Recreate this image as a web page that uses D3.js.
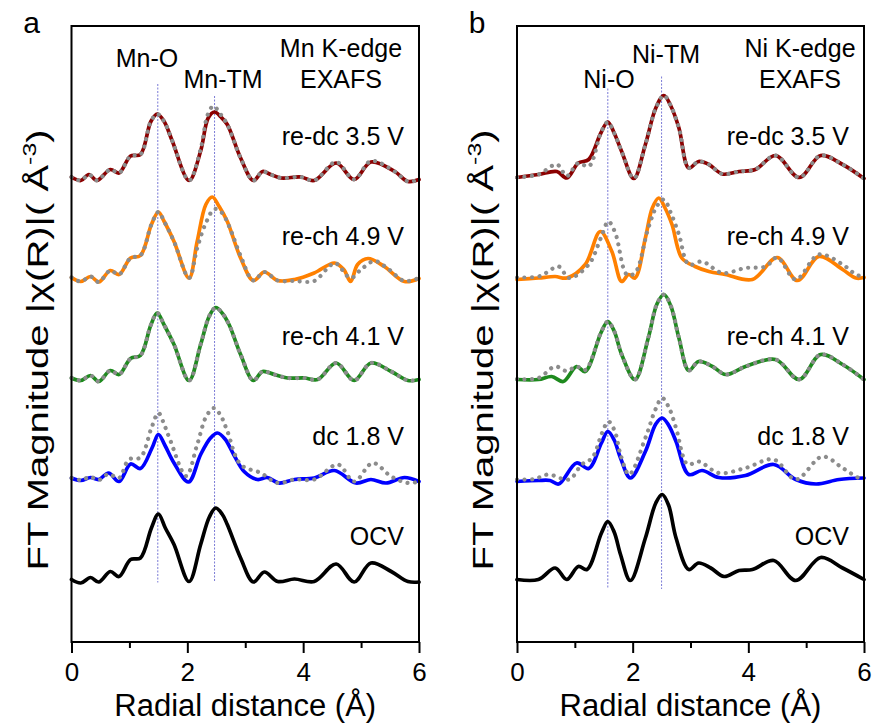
<!DOCTYPE html>
<html><head><meta charset="utf-8">
<script src="https://cdn.jsdelivr.net/npm/d3@7"></script>
<style>
body{margin:0;background:#fff}
svg text{font-family:"Liberation Sans",Arial,Helvetica,sans-serif;fill:#000}
</style>
</head><body>
<svg id="chart" width="875" height="727"></svg>
<script>
// ---------- data ----------
const seriesNames   = ["OCV", "dc 1.8 V", "re-ch 4.1 V", "re-ch 4.9 V", "re-dc 3.5 V"];
const seriesOffsets = [0, 2, 4, 6, 8];
const seriesColors  = ["#000000", "#0000ff", "#1e8a1e", "#ff8000", "#8b0000"];
const xTicks = [0, 2, 4, 6];
const xMinorTicks = [1, 3, 5];

// Panel a: Mn K-edge, [R (Å), |χ(R)| (arb.)]
const mnOCV = [[0,0.05],[0.16,-0.02],[0.33,0.09],[0.47,0.00],[0.67,0.21],[0.82,0.11],[1.02,0.45],[1.19,0.48],[1.38,1.08],[1.50,1.36],[1.62,1.08],[1.77,0.75],[2.03,0.01],[2.23,0.75],[2.38,1.30],[2.49,1.48],[2.60,1.36],[2.69,1.15],[2.92,0.48],[3.14,0.00],[3.33,0.20],[3.56,0.01],[3.85,0.06],[4.19,0.01],[4.57,0.36],[4.88,0.00],[5.17,0.38],[5.52,0.21],[5.81,0.01],[6.00,0.00]];
const mnDc18 = [[0,0.08],[0.16,0.03],[0.33,0.09],[0.47,0.05],[0.64,0.18],[0.82,0.01],[1.02,0.36],[1.19,0.27],[1.39,0.68],[1.50,0.95],[1.61,0.74],[1.77,0.38],[2.02,0.00],[2.23,0.55],[2.40,0.88],[2.52,0.98],[2.65,0.86],[2.80,0.55],[2.98,0.21],[3.21,0.05],[3.38,0.09],[3.58,-0.02],[3.85,0.05],[4.19,0.08],[4.54,0.23],[4.91,-0.02],[5.17,0.05],[5.43,-0.02],[5.75,0.09],[6.00,0.01]];
const mnDc18Fit = [[0,0.08],[0.16,0.04],[0.33,0.10],[0.47,0.04],[0.64,0.16],[0.82,0.08],[0.99,0.45],[1.19,0.49],[1.38,1.08],[1.50,1.38],[1.61,1.12],[1.71,0.82],[1.98,0.12],[2.17,0.75],[2.33,1.32],[2.46,1.48],[2.58,1.32],[2.69,1.02],[2.92,0.35],[3.27,0.18],[3.56,-0.02],[3.85,0.05],[4.19,0.05],[4.60,0.35],[4.88,0.01],[5.20,0.38],[5.52,0.11],[5.81,-0.02],[6.00,0.01]];
const mnCh41 = [[0,0.08],[0.16,0.03],[0.33,0.13],[0.47,0.01],[0.67,0.23],[0.82,0.15],[1.02,0.47],[1.19,0.53],[1.37,1.14],[1.48,1.38],[1.60,1.14],[1.77,0.75],[2.03,0.03],[2.23,0.75],[2.38,1.32],[2.49,1.49],[2.60,1.38],[2.72,1.15],[2.92,0.55],[3.14,0.03],[3.30,0.21],[3.50,0.15],[3.73,0.08],[4.02,0.08],[4.25,0.05],[4.57,0.38],[4.88,0.03],[5.17,0.38],[5.52,0.21],[5.81,0.03],[6.00,0.05]];
const mnCh41Fit = [[0,0.08],[0.16,0.03],[0.33,0.13],[0.47,0.01],[0.67,0.23],[0.82,0.15],[1.02,0.47],[1.19,0.53],[1.37,1.14],[1.48,1.38],[1.60,1.14],[1.77,0.75],[2.03,0.03],[2.23,0.75],[2.38,1.32],[2.49,1.49],[2.60,1.38],[2.72,1.15],[2.92,0.55],[3.14,0.03],[3.30,0.21],[3.50,0.15],[3.73,0.08],[4.02,0.08],[4.25,0.05],[4.57,0.38],[4.88,0.03],[5.17,0.38],[5.52,0.21],[5.81,0.03],[6.00,0.05]];
const mnCh49 = [[0,0.09],[0.16,0.01],[0.33,0.11],[0.47,0.00],[0.67,0.23],[0.82,0.15],[1.02,0.48],[1.19,0.53],[1.38,1.15],[1.50,1.40],[1.60,1.21],[1.77,0.81],[2.03,0.08],[2.17,0.81],[2.32,1.55],[2.43,1.70],[2.55,1.51],[2.69,1.21],[2.92,0.48],[3.14,0.03],[3.33,0.20],[3.56,0.03],[3.85,0.05],[4.19,0.18],[4.54,0.38],[4.70,0.25],[4.82,0.01],[4.94,0.35],[5.12,0.47],[5.40,0.31],[5.75,0.01],[6.00,0.07]];
const mnCh49Fit = [[0,0.09],[0.16,0.01],[0.33,0.11],[0.47,0.00],[0.67,0.23],[0.82,0.15],[1.02,0.48],[1.19,0.53],[1.38,1.15],[1.50,1.40],[1.60,1.21],[1.77,0.81],[2.03,0.08],[2.17,0.68],[2.32,1.18],[2.47,1.46],[2.60,1.38],[2.72,1.12],[2.92,0.52],[3.14,0.03],[3.33,0.20],[3.56,0.03],[3.85,0.02],[4.19,0.02],[4.40,0.25],[4.55,0.38],[4.82,0.08],[5.00,0.25],[5.23,0.42],[5.45,0.28],[5.75,0.02],[6.00,0.08]];
const mnDc35 = [[0,0.10],[0.16,0.03],[0.30,0.15],[0.44,0.03],[0.67,0.25],[0.82,0.18],[1.02,0.52],[1.19,0.55],[1.37,1.21],[1.48,1.36],[1.60,1.21],[1.74,0.82],[2.03,0.03],[2.23,0.62],[2.36,1.28],[2.47,1.40],[2.58,1.30],[2.69,1.15],[2.92,0.48],[3.14,0.03],[3.30,0.21],[3.44,0.15],[3.62,0.08],[3.96,0.10],[4.19,0.03],[4.57,0.38],[4.88,0.05],[5.17,0.40],[5.58,0.21],[5.81,0.01],[6.00,0.05]];
const mnDc35Fit = [[0,0.10],[0.16,0.03],[0.30,0.15],[0.44,0.03],[0.67,0.25],[0.82,0.18],[1.02,0.52],[1.19,0.55],[1.37,1.21],[1.48,1.36],[1.60,1.21],[1.74,0.82],[2.03,0.03],[2.23,0.66],[2.35,1.34],[2.45,1.52],[2.57,1.36],[2.69,1.15],[2.92,0.48],[3.14,0.03],[3.30,0.21],[3.44,0.15],[3.62,0.08],[3.96,0.10],[4.19,0.03],[4.57,0.40],[4.88,0.05],[5.17,0.42],[5.58,0.21],[5.81,0.01],[6.00,0.05]];

// Panel b: Ni K-edge, [R (Å), |χ(R)| (arb.)]
const niOCV = [[0,0.05],[0.37,0.05],[0.66,0.28],[0.86,0.05],[1.06,0.31],[1.21,0.25],[1.46,0.98],[1.57,1.21],[1.68,1.00],[1.79,0.55],[1.96,0.03],[2.22,0.88],[2.40,1.58],[2.51,1.75],[2.62,1.54],[2.75,0.88],[2.97,0.25],[3.14,0.38],[3.35,0.28],[3.58,0.11],[3.84,0.23],[4.07,0.25],[4.44,0.43],[4.82,0.03],[5.25,0.49],[5.63,0.28],[6.00,0.05]];
const niDc18 = [[0,0.01],[0.37,0.03],[0.57,0.03],[0.72,-0.04],[1.03,0.38],[1.24,0.27],[1.46,0.78],[1.57,1.01],[1.68,0.84],[1.79,0.48],[1.96,0.08],[2.22,0.61],[2.40,1.16],[2.51,1.28],[2.62,1.14],[2.75,0.81],[2.97,0.15],[3.20,0.23],[3.49,0.09],[3.95,0.13],[4.44,0.35],[4.82,0.05],[5.17,-0.04],[5.57,0.05],[6.00,0.08]];
const niDc18Fit = [[0,0.05],[0.30,0.06],[0.54,0.15],[0.90,0.05],[1.12,0.35],[1.30,0.48],[1.47,0.98],[1.58,1.21],[1.69,1.02],[1.79,0.55],[1.94,0.15],[2.22,0.88],[2.39,1.44],[2.51,1.68],[2.63,1.48],[2.75,1.08],[2.95,0.35],[3.14,0.41],[3.49,0.18],[3.95,0.28],[4.44,0.45],[4.82,0.05],[5.28,0.51],[5.63,0.28],[5.91,0.08],[6.00,0.06]];
const niCh41 = [[0,0.05],[0.37,0.05],[0.60,0.11],[0.80,0.01],[1.03,0.31],[1.18,0.21],[1.45,0.98],[1.57,1.21],[1.68,1.02],[1.81,0.55],[2.04,0.05],[2.27,0.88],[2.42,1.56],[2.54,1.75],[2.66,1.52],[2.80,0.88],[2.97,0.23],[3.14,0.41],[3.38,0.31],[3.61,0.15],[3.95,0.31],[4.47,0.45],[4.88,0.05],[5.25,0.55],[5.63,0.35],[6.00,0.05]];
const niCh41Fit = [[0,0.06],[0.37,0.08],[0.66,0.31],[0.86,0.22],[1.03,0.31],[1.18,0.24],[1.45,0.98],[1.57,1.21],[1.68,1.02],[1.81,0.55],[2.04,0.05],[2.27,0.88],[2.42,1.56],[2.54,1.75],[2.66,1.52],[2.80,0.88],[2.97,0.23],[3.14,0.41],[3.38,0.31],[3.61,0.15],[3.95,0.31],[4.47,0.45],[4.88,0.05],[5.25,0.55],[5.63,0.35],[6.00,0.05]];
const niCh49 = [[0,0.05],[0.37,0.08],[0.66,0.11],[0.86,0.08],[1.18,0.35],[1.44,1.01],[1.64,0.61],[1.81,0.01],[1.93,0.15],[2.04,0.08],[2.22,0.88],[2.34,1.48],[2.45,1.68],[2.56,1.48],[2.68,1.15],[2.85,0.48],[3.08,0.31],[3.32,0.21],[3.60,0.15],[4.07,0.05],[4.50,0.49],[4.85,0.03],[5.22,0.51],[5.63,0.25],[5.86,0.08],[6.00,0.09]];
const niCh49Fit = [[0,0.09],[0.37,0.11],[0.50,0.18],[0.72,0.31],[0.90,0.08],[1.24,0.35],[1.45,0.88],[1.58,1.21],[1.70,0.98],[1.90,0.15],[2.04,0.18],[2.27,1.08],[2.42,1.52],[2.54,1.65],[2.66,1.38],[2.80,0.95],[2.97,0.35],[3.20,0.41],[3.55,0.18],[3.95,0.28],[4.30,0.31],[4.50,0.49],[4.82,0.05],[5.22,0.55],[5.63,0.35],[5.86,0.15],[6.00,0.10]];
const niDc35 = [[0,0.09],[0.37,0.15],[0.69,0.21],[0.86,0.08],[1.06,0.38],[1.24,0.45],[1.45,0.98],[1.57,1.20],[1.68,0.98],[1.81,0.61],[2.02,0.07],[2.22,0.75],[2.40,1.48],[2.54,1.73],[2.66,1.52],[2.80,1.08],[2.97,0.28],[3.14,0.41],[3.32,0.35],[3.55,0.16],[3.84,0.21],[4.12,0.25],[4.47,0.53],[4.88,0.09],[5.25,0.53],[5.63,0.35],[6.00,0.07]];
const niDc35Fit = [[0,0.09],[0.37,0.15],[0.69,0.35],[0.86,0.12],[1.06,0.38],[1.24,0.31],[1.45,0.98],[1.57,1.20],[1.68,0.98],[1.81,0.61],[2.02,0.07],[2.22,0.75],[2.40,1.48],[2.54,1.73],[2.66,1.52],[2.80,1.08],[2.97,0.28],[3.14,0.41],[3.32,0.35],[3.55,0.16],[3.84,0.21],[4.12,0.25],[4.47,0.53],[4.88,0.09],[5.25,0.53],[5.63,0.35],[6.00,0.07]];

// reference bond positions (Å) and their line extents (arb. units)
const mnBonds = [{label:"Mn-O", r:1.49, top:9.96, bottom:-0.01}, {label:"Mn-TM", r:2.47, top:9.72, bottom:-0.01}];
const niBonds = [{label:"Ni-O", r:1.57, top:9.87, bottom:-0.14}, {label:"Ni-TM", r:2.50, top:10.11, bottom:-0.14}];

// ---------- layout ----------
const svg = d3.select("#chart");
const FONT = '"Liberation Sans",Arial,Helvetica,sans-serif';
const panels = [
  { letter:"a", left:71.5, right:419, data:[mnOCV,mnDc18,mnCh41,mnCh49,mnDc35], fits:[null,mnDc18Fit,mnCh41Fit,mnCh49Fit,mnDc35Fit],
    bonds:mnBonds, edge:"Mn K-edge",
    bondLabels:[{t:"Mn-O", x:147, y:67},{t:"Mn-TM", x:223, y:88}], edgeX:341 },
  { letter:"b", left:517, right:864, data:[niOCV,niDc18,niCh41,niCh49,niDc35], fits:[null,niDc18Fit,niCh41Fit,niCh49Fit,niDc35Fit],
    bonds:niBonds, edge:"Ni K-edge",
    bondLabels:[{t:"Ni-O", x:609, y:88},{t:"Ni-TM", x:666, y:63}], edgeX:800 }
];
const plotTop = 26, plotBottom = 642;

panels.forEach(p => {
  const g = svg.append("g");
  const x = d3.scaleLinear().domain([0, 6]).range([p.left, p.right]);
  const y = d3.scaleLinear().domain([-1.2, 11.12]).range([plotBottom, plotTop]);

  // reference lines
  p.bonds.forEach(b => {
    g.append("line")
      .attr("x1", x(b.r)).attr("x2", x(b.r))
      .attr("y1", y(b.top)).attr("y2", y(b.bottom))
      .attr("stroke", "#7a7ad6").attr("stroke-width", 1)
      .attr("stroke-dasharray", "2,1.5");
  });

  // curves
  p.data.forEach((d, i) => {
    const off = seriesOffsets[i];
    const line = d3.line().x(v => x(v[0])).y(v => y(v[1] + off)).curve(d3.curveCatmullRom.alpha(0.5));
    g.append("path").attr("d", line(d)).attr("fill", "none")
      .attr("stroke", seriesColors[i]).attr("stroke-width", 3.7)
      .attr("stroke-linejoin", "round").attr("stroke-linecap", "round");
    if (p.fits[i]) {
      g.append("path").attr("d", line(p.fits[i])).attr("fill", "none")
        .attr("stroke", "#8c8c8c").attr("stroke-width", 4.2)
        .attr("stroke-dasharray", "0.01,7.5").attr("stroke-linecap", "round");
    }
    g.append("text").attr("x", p.right - 15).attr("y", y(off + 0.74))
      .attr("text-anchor", "end").attr("font-size", 25).text(seriesNames[i]);
  });

  // frame
  g.append("rect").attr("x", p.left).attr("y", plotTop)
    .attr("width", p.right - p.left).attr("height", plotBottom - plotTop)
    .attr("fill", "none").attr("stroke", "#000").attr("stroke-width", 2);

  // axes
  const ax = g.append("g").attr("transform", `translate(0,${plotBottom})`)
    .call(d3.axisBottom(x).tickValues(xTicks).tickSize(11).tickPadding(10).tickFormat(d3.format("d")));
  ax.select(".domain").remove();
  ax.selectAll("line").attr("stroke-width", 2);
  ax.selectAll("text").attr("font-size", 26).attr("font-family", FONT);
  const axm = g.append("g").attr("transform", `translate(0,${plotBottom})`)
    .call(d3.axisBottom(x).tickValues(xMinorTicks).tickSize(6).tickFormat(""));
  axm.select(".domain").remove();
  axm.selectAll("line").attr("stroke-width", 2);

  // axis titles
  g.append("text").attr("x", (p.left + p.right) / 2).attr("y", 716)
    .attr("text-anchor", "middle").attr("font-size", 31).text("Radial distance (Å)");
  const yt = g.append("text").attr("text-anchor", "middle").attr("font-size", 29)
    .attr("transform", `translate(${p.left - 24},350) rotate(-90) scale(1.38,1)`);
  yt.append("tspan").text("FT Magnitude  |χ(R)|( Å");
  yt.append("tspan").attr("font-size", 18).attr("dy", -12).text("-3");
  yt.append("tspan").attr("dy", 12).text(")");

  // panel letter
  g.append("text").attr("x", p.left - 40).attr("y", 33).attr("text-anchor", "middle")
    .attr("font-size", 30).text(p.letter);

  // bond labels
  p.bondLabels.forEach(b => {
    g.append("text").attr("x", b.x).attr("y", b.y).attr("text-anchor", "middle")
      .attr("font-size", 25).text(b.t);
  });
  g.append("text").attr("x", p.edgeX).attr("y", 57).attr("text-anchor", "middle").attr("font-size", 25).text(p.edge);
  g.append("text").attr("x", p.edgeX).attr("y", 88).attr("text-anchor", "middle").attr("font-size", 25).text("EXAFS");
});
</script>
</body></html>
